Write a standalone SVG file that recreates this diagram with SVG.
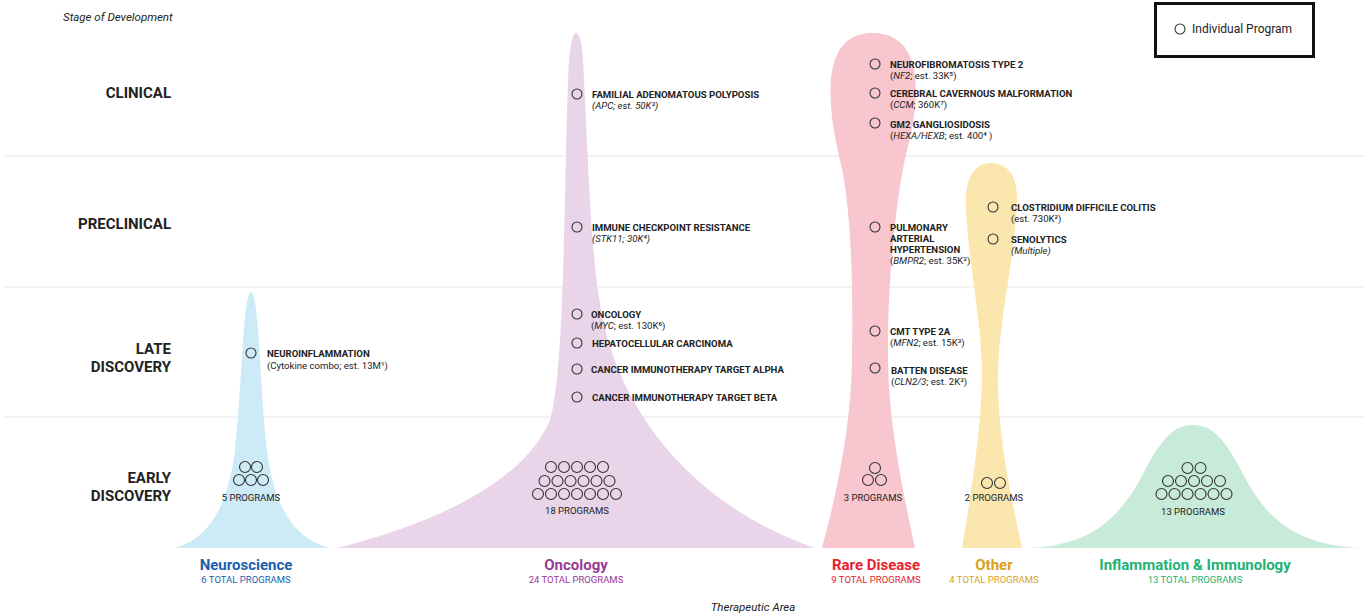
<svg xmlns="http://www.w3.org/2000/svg" width="1369" height="616" viewBox="0 0 1369 616">
<style>
text{font-family:Roboto,"Liberation Sans",sans-serif;fill:#222}
.row{font-size:15px;font-weight:700;text-anchor:end}
.t{font-size:9.6px;font-weight:700}
.s{font-size:9.6px}
.i{font-style:italic}
.cnt{font-size:9.5px;text-anchor:middle}
.area{font-size:15px;font-weight:700;text-anchor:middle}
.tot{font-size:9.5px;text-anchor:middle}
.ax{font-size:11.5px;font-style:italic}
.grid{stroke:#e6e6e6;stroke-width:1}
circle{fill:none;stroke:#333;stroke-width:1.1}
.e circle{stroke-width:1.1}
</style>
<rect width="1369" height="616" fill="#fff"/>
<g id="grid">
<line class="grid" x1="5" y1="156" x2="1365" y2="156"/>
<line class="grid" x1="5" y1="287" x2="1365" y2="287"/>
<line class="grid" x1="5" y1="417" x2="1365" y2="417"/>
</g>
<g id="axis-labels">
<text class="ax" x="63" y="21">Stage of Development</text>
<text class="row" x="171" y="98">CLINICAL</text>
<text class="row" x="171" y="229">PRECLINICAL</text>
<text class="row" x="171" y="354">LATE</text>
<text class="row" x="171" y="372">DISCOVERY</text>
<text class="row" x="171" y="483">EARLY</text>
<text class="row" x="171" y="501">DISCOVERY</text>
<text class="ax" x="753" y="611" text-anchor="middle">Therapeutic Area</text>
</g>
<g id="legend">
<rect x="1155.5" y="3.5" width="158" height="53" fill="none" stroke="#111" stroke-width="3"/>
<circle cx="1180" cy="29" r="5"/>
<text x="1192" y="33" font-size="12">Individual Program</text>
</g>
<g id="neuroscience">
<path fill="#cdeaf7" d="M175,548 C210,538 228,505 235,450 C242,390 243,292 251,292 C259,292 260,390 267,450 C274,505 292,538 330,548 Z"/>
<circle cx="251" cy="353" r="5"/>
<text class="t" x="267" y="357">NEUROINFLAMMATION</text>
<text class="s" x="267" y="369">(Cytokine combo; est. 13M¹)</text>
<g class="e">
<circle cx="245" cy="467" r="5.5"/><circle cx="257" cy="467" r="5.5"/>
<circle cx="239" cy="480" r="5.5"/><circle cx="251" cy="480" r="5.5"/><circle cx="263" cy="480" r="5.5"/>
</g>
<text class="cnt" x="251" y="501">5 PROGRAMS</text>
<text class="area" x="246" y="570" style="fill:#1a5eab">Neuroscience</text>
<text class="tot" x="246" y="583" style="fill:#1a5eab">6 TOTAL PROGRAMS</text>
</g>
<g id="oncology">
<path fill="#e9d4e9" d="M337,548 C440,522 525,480 550,420 C566,370 564,150 569,60 C571,42 573,33 576,33 C579,33 582,42 583,60 C588,150 590,260 603,320 C622,410 690,505 815,548 Z"/>
<circle cx="577" cy="94" r="5"/>
<text class="t" x="592" y="98">FAMILIAL ADENOMATOUS POLYPOSIS</text>
<text class="s i" x="592" y="109">(APC; est. 50K³)</text>
<circle cx="577" cy="227" r="5"/>
<text class="t" x="592" y="231">IMMUNE CHECKPOINT RESISTANCE</text>
<text class="s i" x="592" y="242">(STK11; 30K⁴)</text>
<circle cx="577" cy="314" r="5"/>
<text class="t" x="591" y="318">ONCOLOGY</text>
<text class="s" x="591" y="329">(<tspan class="i">MYC</tspan>; est. 130K⁶)</text>
<circle cx="577" cy="343" r="5"/>
<text class="t" x="592" y="347">HEPATOCELLULAR CARCINOMA</text>
<circle cx="577" cy="369" r="5"/>
<text class="t" x="591" y="373">CANCER IMMUNOTHERAPY TARGET ALPHA</text>
<circle cx="577" cy="397" r="5"/>
<text class="t" x="592" y="401">CANCER IMMUNOTHERAPY TARGET BETA</text>
<g class="e">
<circle cx="551" cy="467" r="5.5"/><circle cx="564" cy="467" r="5.5"/><circle cx="577" cy="467" r="5.5"/><circle cx="590" cy="467" r="5.5"/><circle cx="603" cy="467" r="5.5"/>
<circle cx="544.5" cy="481" r="5.5"/><circle cx="557.5" cy="481" r="5.5"/><circle cx="570.5" cy="481" r="5.5"/><circle cx="583.5" cy="481" r="5.5"/><circle cx="596.5" cy="481" r="5.5"/><circle cx="609.5" cy="481" r="5.5"/>
<circle cx="538" cy="494" r="5.5"/><circle cx="551" cy="494" r="5.5"/><circle cx="564" cy="494" r="5.5"/><circle cx="577" cy="494" r="5.5"/><circle cx="590" cy="494" r="5.5"/><circle cx="603" cy="494" r="5.5"/><circle cx="616" cy="494" r="5.5"/>
</g>
<text class="cnt" x="577" y="514">18 PROGRAMS</text>
<text class="area" x="576" y="570" style="fill:#9b3a96">Oncology</text>
<text class="tot" x="576" y="583" style="fill:#9b3a96">24 TOTAL PROGRAMS</text>
</g>
<g id="rare-disease">
<path fill="#f8c6ce" d="M822,548 C835,500 851,430 852,360 C853,290 852,210 840,160 C828,110 818,33 872,33 C926,33 920,100 907,150 C895,200 887,290 888,360 C889,430 905,500 915,548 Z"/>
<circle cx="875" cy="64" r="5"/>
<text class="t" x="890" y="68">NEUROFIBROMATOSIS TYPE 2</text>
<text class="s" x="890" y="79">(<tspan class="i">NF2</tspan>; est. 33K⁵)</text>
<circle cx="875" cy="93" r="5"/>
<text class="t" x="890" y="97">CEREBRAL CAVERNOUS MALFORMATION</text>
<text class="s" x="890" y="108">(<tspan class="i">CCM</tspan>; 360K⁷)</text>
<circle cx="875" cy="123" r="5"/>
<text class="t" x="890" y="128">GM2 GANGLIOSIDOSIS</text>
<text class="s" x="890" y="139">(<tspan class="i">HEXA/HEXB</tspan>; est. 400⁴ )</text>
<circle cx="875" cy="227" r="5"/>
<text class="t" x="890" y="231">PULMONARY</text>
<text class="t" x="890" y="242">ARTERIAL</text>
<text class="t" x="890" y="253">HYPERTENSION</text>
<text class="s" x="890" y="264">(<tspan class="i">BMPR2</tspan>; est. 35K³)</text>
<circle cx="875" cy="331" r="5"/>
<text class="t" x="890" y="335">CMT TYPE 2A</text>
<text class="s" x="890" y="346">(<tspan class="i">MFN2</tspan>; est. 15K³)</text>
<circle cx="875" cy="368" r="5"/>
<text class="t" x="891" y="374">BATTEN DISEASE</text>
<text class="s" x="891" y="385">(<tspan class="i">CLN2/3</tspan>; est. 2K³)</text>
<g class="e">
<circle cx="875" cy="468" r="5.5"/>
<circle cx="868" cy="480" r="5.5"/><circle cx="881" cy="480" r="5.5"/>
</g>
<text class="cnt" x="873" y="501">3 PROGRAMS</text>
<text class="area" x="876" y="570" style="fill:#e8202e">Rare Disease</text>
<text class="tot" x="876" y="583" style="fill:#e8202e">9 TOTAL PROGRAMS</text>
</g>
<g id="other">
<path fill="#fbe7ae" d="M962,548 C970,500 980,440 982,380 C983,330 968,260 966,210 C964,172 978,163 991,163 C1004,163 1018,172 1017,200 C1015,260 998,320 998,380 C998,440 1012,500 1022,548 Z"/>
<circle cx="993" cy="207" r="5"/>
<text class="t" x="1011" y="211">CLOSTRIDIUM DIFFICILE COLITIS</text>
<text class="s" x="1011" y="222">(est. 730K²)</text>
<circle cx="993" cy="239" r="5"/>
<text class="t" x="1011" y="243">SENOLYTICS</text>
<text class="s i" x="1011" y="254">(Multiple)</text>
<g class="e">
<circle cx="987" cy="483" r="5.5"/><circle cx="1000" cy="483" r="5.5"/>
</g>
<text class="cnt" x="994" y="501">2 PROGRAMS</text>
<text class="area" x="994" y="570" style="fill:#d9a21b">Other</text>
<text class="tot" x="994" y="583" style="fill:#d9a21b">4 TOTAL PROGRAMS</text>
</g>
<g id="inflammation-immunology">
<path fill="#c8ead8" d="M1030,548 C1090,545 1120,520 1145,470 C1165,432 1178,425 1193,425 C1208,425 1221,432 1241,470 C1266,520 1296,545 1360,548 Z"/>
<g class="e">
<circle cx="1187.5" cy="468" r="5.5"/><circle cx="1200.5" cy="468" r="5.5"/>
<circle cx="1168" cy="481" r="5.5"/><circle cx="1181" cy="481" r="5.5"/><circle cx="1194" cy="481" r="5.5"/><circle cx="1207" cy="481" r="5.5"/><circle cx="1220" cy="481" r="5.5"/>
<circle cx="1161.5" cy="494" r="5.5"/><circle cx="1174.5" cy="494" r="5.5"/><circle cx="1187.5" cy="494" r="5.5"/><circle cx="1200.5" cy="494" r="5.5"/><circle cx="1213.5" cy="494" r="5.5"/><circle cx="1226.5" cy="494" r="5.5"/>
</g>
<text class="cnt" x="1193" y="515">13 PROGRAMS</text>
<text class="area" x="1195" y="570" style="fill:#22b273">Inflammation &amp; Immunology</text>
<text class="tot" x="1195" y="583" style="fill:#22b273">13 TOTAL PROGRAMS</text>
</g>
</svg>
